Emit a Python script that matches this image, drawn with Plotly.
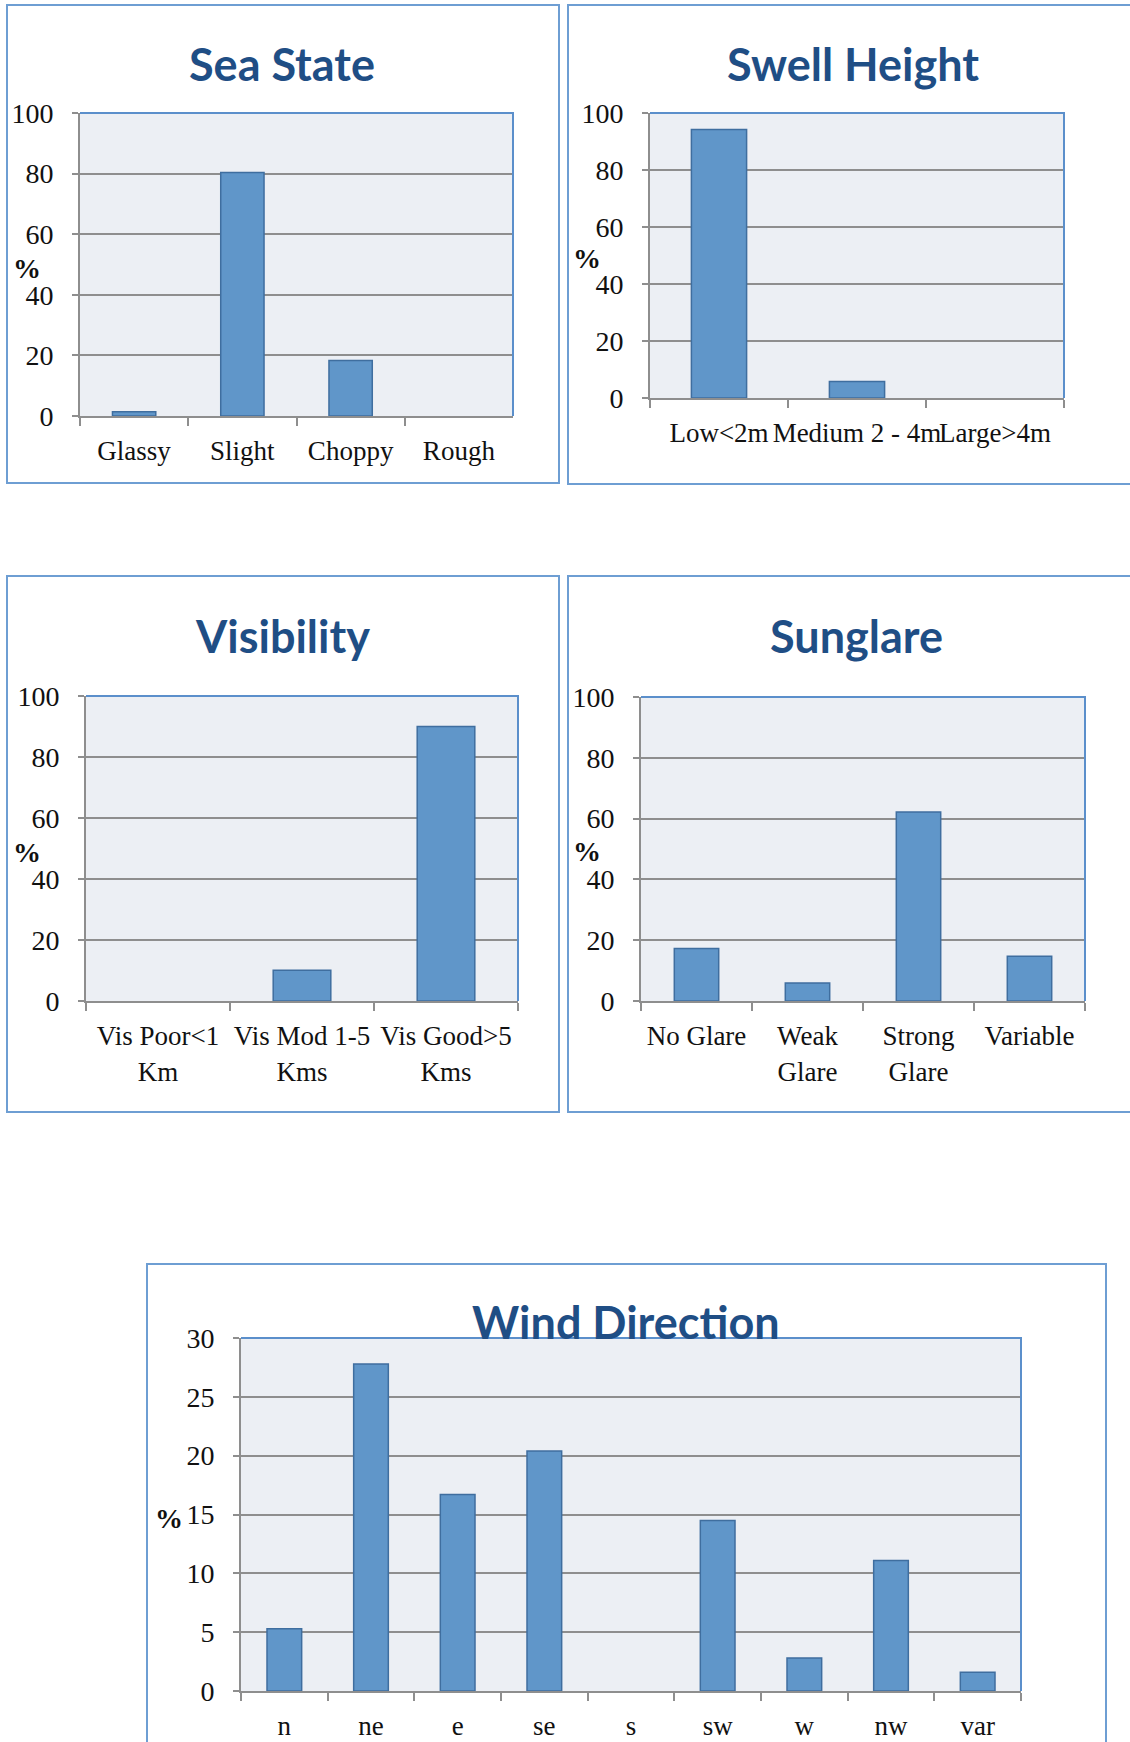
import plotly.graph_objects as go

# ---- data -------------------------------------------------------------
sea_categories = ["Glassy", "Slight", "Choppy", "Rough"]
sea_values = [1.4, 80.4, 18.3, 0]

swell_categories = ["Low<2m", "Medium 2 - 4m", "Large>4m"]
swell_values = [94.2, 5.8, 0]

vis_categories = ["Vis Poor<1<br>Km", "Vis Mod 1-5<br>Kms", "Vis Good>5<br>Kms"]
vis_values = [0, 10.1, 90.0]

glare_categories = ["No Glare", "Weak<br>Glare", "Strong<br>Glare", "Variable"]
glare_values = [17.3, 5.9, 62.2, 14.7]

wind_categories = ["n", "ne", "e", "se", "s", "sw", "w", "nw", "var"]
wind_values = [5.3, 27.8, 16.7, 20.4, 0, 14.5, 2.8, 11.1, 1.6]

titles = ["Sea State", "Swell Height", "Visibility", "Sunglare", "Wind Direction"]

# ---- styling ----------------------------------------------------------
W, H = 1130, 1742
SERIF = "Liberation Serif, Times New Roman, serif"
TITLE_FONT = "Lato, Open Sans, sans-serif"
TITLE_COLOR = "#1F4E85"
BAR_FILL = "#6096C9"
BAR_EDGE = "#3F6E9F"
PLOT_BG = "#ECEFF4"
GRID = "#8E8E8E"
FRAME_BLUE = "#6E9ED3"
PLOT_EDGE_BLUE = "#5B8FCB"
XTICK_SIZE = 27
YTICK_SIZE = 28


def px_x(v):
    return v / W


def px_y(v):
    return 1 - v / H


# plot areas (left, top, right, bottom) in pixels
plot_boxes = [
    (80, 113, 513, 416),
    (650, 113, 1064, 398),
    (86, 696, 518, 1001),
    (641, 697, 1085, 1001),
    (241, 1338, 1021, 1691),
]
# outer chart frames (left, top, right, bottom)
frames = [
    (7, 5, 559, 483),
    (568, 5, 1140, 484),
    (7, 576, 559, 1112),
    (568, 576, 1140, 1112),
    (147, 1264, 1106, 1760),
]
title_pos = [(282, 64), (853, 64), (282, 636), (856, 636), (626, 1322)]
pct_pos = [(27, 268), (587, 258), (27, 852), (587, 851), (169, 1518)]
y_ranges = [(0, 100, 20)] * 4 + [(0, 30, 5)]

series = [
    (sea_categories, sea_values),
    (swell_categories, swell_values),
    (vis_categories, vis_values),
    (glare_categories, glare_values),
    (wind_categories, wind_values),
]

fig = go.Figure()
layout = dict(
    width=W,
    height=H,
    margin=dict(l=0, r=0, t=0, b=0, autoexpand=False),
    paper_bgcolor="white",
    showlegend=False,
    shapes=[],
    annotations=[],
)

for i, ((cats, vals), box) in enumerate(zip(series, plot_boxes)):
    n = i + 1
    xa = "x" if n == 1 else f"x{n}"
    ya = "y" if n == 1 else f"y{n}"
    fig.add_trace(
        go.Bar(
            x=cats,
            y=vals,
            xaxis=xa,
            yaxis=ya,
            marker=dict(
                color=BAR_FILL,
                # empty categories get no outline so nothing shows on the axis
                line=dict(color=BAR_EDGE, width=[1.5 if v > 0 else 0 for v in vals]),
            ),
            width=0.4,
        )
    )
    l, t, r, b = box
    lo, hi, step = y_ranges[i]
    layout["xaxis" if n == 1 else f"xaxis{n}"] = dict(
        domain=[px_x(l), px_x(r)],
        anchor=ya,
        type="category",
        automargin=False,
        showline=True,
        linecolor=GRID,
        linewidth=2,
        ticks="outside",
        tickson="boundaries",
        ticklen=8,
        tickwidth=1.5,
        tickcolor=GRID,
        showgrid=False,
        tickangle=0,
        ticklabelstandoff=10,
        tickfont=dict(family=SERIF, size=XTICK_SIZE, color="#111111"),
        fixedrange=True,
    )
    layout["yaxis" if n == 1 else f"yaxis{n}"] = dict(
        domain=[px_y(b), px_y(t)],
        anchor=xa,
        automargin=False,
        range=[lo, hi],
        dtick=step,
        tick0=0,
        showline=True,
        linecolor=GRID,
        linewidth=2,
        ticks="outside",
        ticklen=6,
        tickwidth=1.5,
        tickcolor=GRID,
        showgrid=True,
        gridcolor=GRID,
        gridwidth=1.5,
        zeroline=False,
        ticklabelstandoff=13,
        tickfont=dict(family=SERIF, size=YTICK_SIZE, color="#111111"),
        fixedrange=True,
    )

# plot backgrounds go under the bars, blue top/right edges over them
for box in plot_boxes:
    l, t, r, b = box
    layout["shapes"].append(dict(
        type="rect", xref="paper", yref="paper", layer="below",
        x0=px_x(l), x1=px_x(r), y0=px_y(b), y1=px_y(t),
        fillcolor=PLOT_BG, line=dict(width=0),
    ))
    layout["shapes"].append(dict(
        type="path", xref="paper", yref="paper", layer="above",
        path=f"M{px_x(l)},{px_y(t)} L{px_x(r)},{px_y(t)} L{px_x(r)},{px_y(b)}",
        line=dict(color=PLOT_EDGE_BLUE, width=2),
    ))

for f in frames:
    l, t, r, b = f
    layout["shapes"].append(dict(
        type="rect", xref="paper", yref="paper", layer="below",
        x0=px_x(l), x1=px_x(r), y0=px_y(b), y1=px_y(t),
        line=dict(color=FRAME_BLUE, width=2), fillcolor="rgba(0,0,0,0)",
    ))

for text, (cx, cy) in zip(titles, title_pos):
    layout["annotations"].append(dict(
        text=f"<b>{text}</b>", xref="paper", yref="paper",
        x=px_x(cx), y=px_y(cy), xanchor="center", yanchor="middle",
        showarrow=False, font=dict(family=TITLE_FONT, size=45, color=TITLE_COLOR),
    ))

for (cx, cy) in pct_pos:
    layout["annotations"].append(dict(
        text="<b>%</b>", xref="paper", yref="paper",
        x=px_x(cx), y=px_y(cy), xanchor="center", yanchor="middle",
        showarrow=False, font=dict(family=SERIF, size=28, color="#111111"),
    ))

fig.update_layout(**layout)

# pin the graph to the top-left corner of the page with no page margins
pin_graph = (
    "document.documentElement.style.margin='0';"
    "document.documentElement.style.padding='0';"
    "document.documentElement.style.overflow='hidden';"
    "document.body.style.margin='0';"
    "document.body.style.padding='0';"
    "document.body.style.overflow='hidden';"
    "var g=document.getElementsByClassName('plotly-graph-div')[0];"
    "g.style.position='fixed';g.style.left='0px';g.style.top='0px';"
)
fig.write_html("out.html", post_script=pin_graph)
